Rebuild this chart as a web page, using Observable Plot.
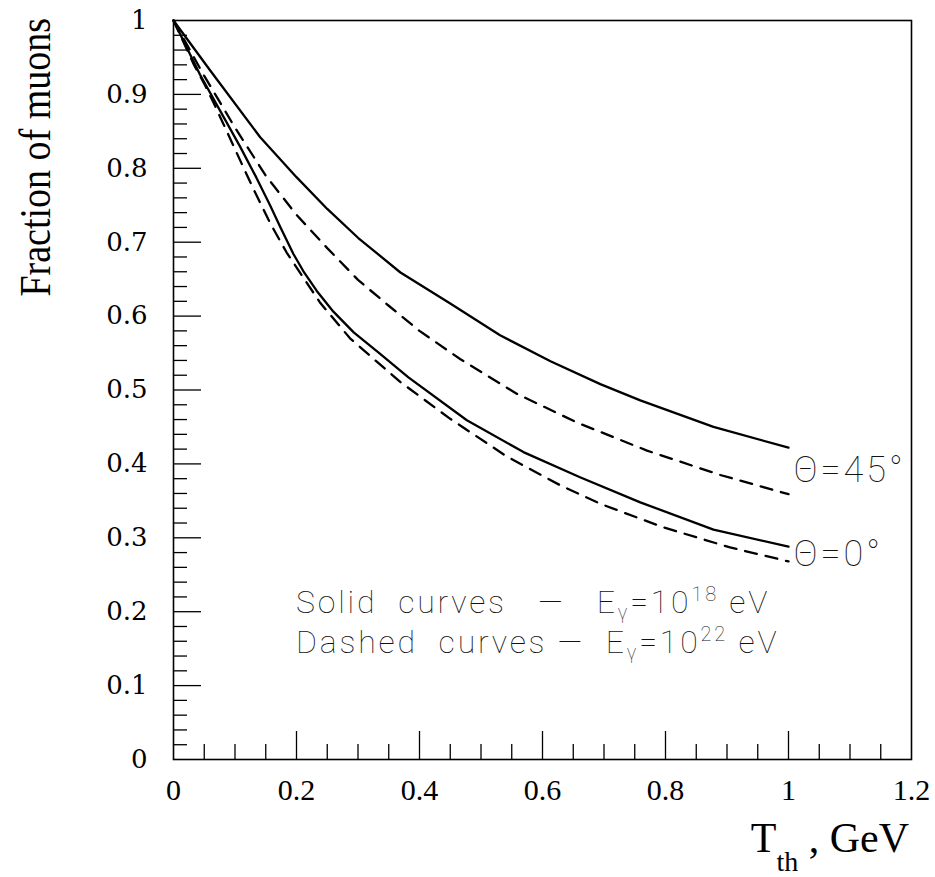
<!DOCTYPE html>
<html><head><meta charset="utf-8">
<script src="https://cdn.jsdelivr.net/npm/d3@7"></script>
<script src="https://cdn.jsdelivr.net/npm/@observablehq/plot@0.6"></script>
<style>body{margin:0;background:#fff}</style>
</head><body><div id="chart"></div>
<script>
// ---- data (x = T_th in GeV, y = fraction of muons) ----
const solid45 = [[0,1],[0.06,0.932],[0.141,0.842],[0.2,0.788],[0.25,0.745],[0.3,0.706],[0.369,0.659],[0.45,0.617],[0.531,0.574],[0.613,0.539],[0.694,0.508],[0.759,0.486],[0.878,0.450],[1.0,0.422]];
const dashed45 = [[0,1],[0.05,0.925],[0.1,0.855],[0.15,0.79],[0.2,0.737],[0.25,0.692],[0.3,0.649],[0.35,0.614],[0.4,0.58],[0.466,0.542],[0.558,0.495],[0.656,0.456],[0.77,0.418],[0.889,0.385],[1.0,0.359]];
const solid0 = [[0,1],[0.043,0.927],[0.1085,0.829],[0.135,0.787],[0.157,0.750],[0.174,0.720],[0.195,0.684],[0.211,0.661],[0.233,0.634],[0.26,0.606],[0.293,0.578],[0.336,0.549],[0.382,0.517],[0.477,0.459],[0.569,0.416],[0.661,0.382],[0.759,0.348],[0.878,0.311],[1.0,0.288]];
const dashed0 = [[0,1],[0.033,0.9405],[0.0515,0.912],[0.065,0.889],[0.08,0.862],[0.095,0.835],[0.111,0.806],[0.13,0.772],[0.157,0.726],[0.184,0.686],[0.2385,0.618],[0.287,0.570],[0.320,0.546],[0.3686,0.511],[0.45,0.461],[0.542,0.410],[0.629,0.371],[0.694,0.346],[0.797,0.314],[0.905,0.287],[1.0,0.268]];

const xTickValues = [0,0.2,0.4,0.6,0.8,1,1.2];
const xTickLabels = ["0","0.2","0.4","0.6","0.8","1","1.2"];
const yTickValues = [0,0.1,0.2,0.3,0.4,0.5,0.6,0.7,0.8,0.9,1];
const yTickLabels = ["0","0.1","0.2","0.3","0.4","0.5","0.6","0.7","0.8","0.9","1"];
const xMajor = [0.2,0.4,0.6,0.8,1.0];
const xMinor = [0.05,0.1,0.15,0.25,0.3,0.35,0.45,0.5,0.55,0.65,0.7,0.75,0.85,0.9,0.95,1.05,1.1,1.15];
const yMajor = [0.1,0.2,0.3,0.4,0.5,0.6,0.7,0.8,0.9];
const yMinor = [0.02,0.04,0.06,0.08,0.12,0.14,0.16,0.18,0.22,0.24,0.26,0.28,0.32,0.34,0.36,0.38,0.42,0.44,0.46,0.48,0.52,0.54,0.56,0.58,0.62,0.64,0.66,0.68,0.72,0.74,0.76,0.78,0.82,0.84,0.86,0.88,0.92,0.94,0.96,0.98];
const curveLabels = ["Θ=45°","Θ=0°"];
const yTitle = "Fraction of muons";

// ---- layout ----
const W = 935, H = 877;
const mL = 173, mR = 24, mT = 20, mB = 118;
const PW = W - mL - mR, PH = H - mT - mB;
const serif = "'Liberation Serif','Times New Roman',serif";
const serifY = "'DejaVu Serif',serif";
const thin = "'Roboto','DejaVu Sans',sans-serif";

const end = a => a[a.length-1];
const labelData = [
  {x: 1, y: (end(solid45)[1] + end(dashed45)[1]) / 2, t: curveLabels[0]},
  {x: 1, y: (end(solid0)[1] + end(dashed0)[1]) / 2, t: curveLabels[1]}
];

const plot = Plot.plot({
  width: W, height: H,
  marginLeft: mL, marginRight: mR, marginTop: mT, marginBottom: mB,
  x: {domain: [0, 1.2]},
  y: {domain: [0, 1]},
  style: {fontFamily: serif, fontSize: "26px", color: "#000", background: "#fff", overflow: "visible"},
  marks: [
    Plot.tickX(xMinor, {x: d => d, insetTop: PH - 15, stroke: "#000", strokeWidth: 1.3}),
    Plot.tickX(xMajor, {x: d => d, insetTop: PH - 28, stroke: "#000", strokeWidth: 1.3}),
    Plot.tickY(yMinor, {y: d => d, insetRight: PW - 14, stroke: "#000", strokeWidth: 1.3}),
    Plot.tickY(yMajor, {y: d => d, insetRight: PW - 28, stroke: "#000", strokeWidth: 1.3}),
    Plot.axisX({ticks: xTickValues, tickSize: 0, tickPadding: 19, fontSize: 30,
      tickFormat: d => xTickLabels[xTickValues.indexOf(d)], label: null}),
    Plot.axisY({ticks: yTickValues, tickSize: 0, tickPadding: 26, fontSize: 26, fontFamily: serifY,
      tickFormat: d => yTickLabels[yTickValues.indexOf(d)], label: null}),
    Plot.line(solid45, {x: d => d[0], y: d => d[1], stroke: "#000", strokeWidth: 2.3}),
    Plot.line(solid0, {x: d => d[0], y: d => d[1], stroke: "#000", strokeWidth: 2.3}),
    Plot.line(dashed45, {x: d => d[0], y: d => d[1], stroke: "#000", strokeWidth: 2.3, strokeDasharray: "12,9"}),
    Plot.line(dashed0, {x: d => d[0], y: d => d[1], stroke: "#000", strokeWidth: 2.3, strokeDasharray: "12,9"}),
    Plot.text(labelData, {x: "x", y: "y", text: "t", textAnchor: "start", dx: 5, fontSize: 36,
      fontFamily: thin, fontWeight: 100, fill: "#111"}),
    Plot.frame({stroke: "#000", strokeWidth: 1.6})
  ]
});
document.getElementById("chart").appendChild(plot);

const svg = d3.select(plot);
const xs = plot.scale("x"), ys = plot.scale("y");

svg.selectAll('g[aria-label="text"] text').attr("letter-spacing", 3);

// y title
svg.append("text")
  .attr("transform", `translate(50,${mT - 2}) rotate(-90) scale(1,1.15)`)
  .attr("text-anchor", "end")
  .attr("font-family", serif).attr("font-size", 38).attr("fill", "#000")
  .text(yTitle);

// x title: T_th , GeV
const xt = svg.append("text")
  .attr("x", W - 26).attr("y", 852)
  .attr("text-anchor", "end")
  .attr("font-family", serif).attr("font-size", 42).attr("fill", "#000");
xt.append("tspan").text("T");
xt.append("tspan").attr("font-size", 28).attr("dy", 19).text("th");
xt.append("tspan").attr("dy", -19).text(" , GeV");

// legend text
function legendLine(xv, yv, lead, sup) {
  const t = svg.append("text")
    .attr("x", xs.apply(xv)).attr("y", ys.apply(yv))
    .attr("text-anchor", "start")
    .attr("font-family", thin).attr("font-weight", 100).attr("font-size", 32).attr("fill", "#111")
    .attr("letter-spacing", 2.8)
    .style("white-space", "pre");
  t.append("tspan").text(lead + "E");
  t.append("tspan").attr("font-size", 20).attr("dy", 6).text("γ");
  t.append("tspan").attr("dy", -6).text("=10");
  t.append("tspan").attr("font-size", 20).attr("dy", -12).text(sup);
  t.append("tspan").attr("dy", 12).text(" eV");
}
legendLine(0.2, 0.197, "Solid  curves   —   ", "18");
legendLine(0.2, 0.143, "Dashed  curves —  ", "22");
</script>
</body></html>
